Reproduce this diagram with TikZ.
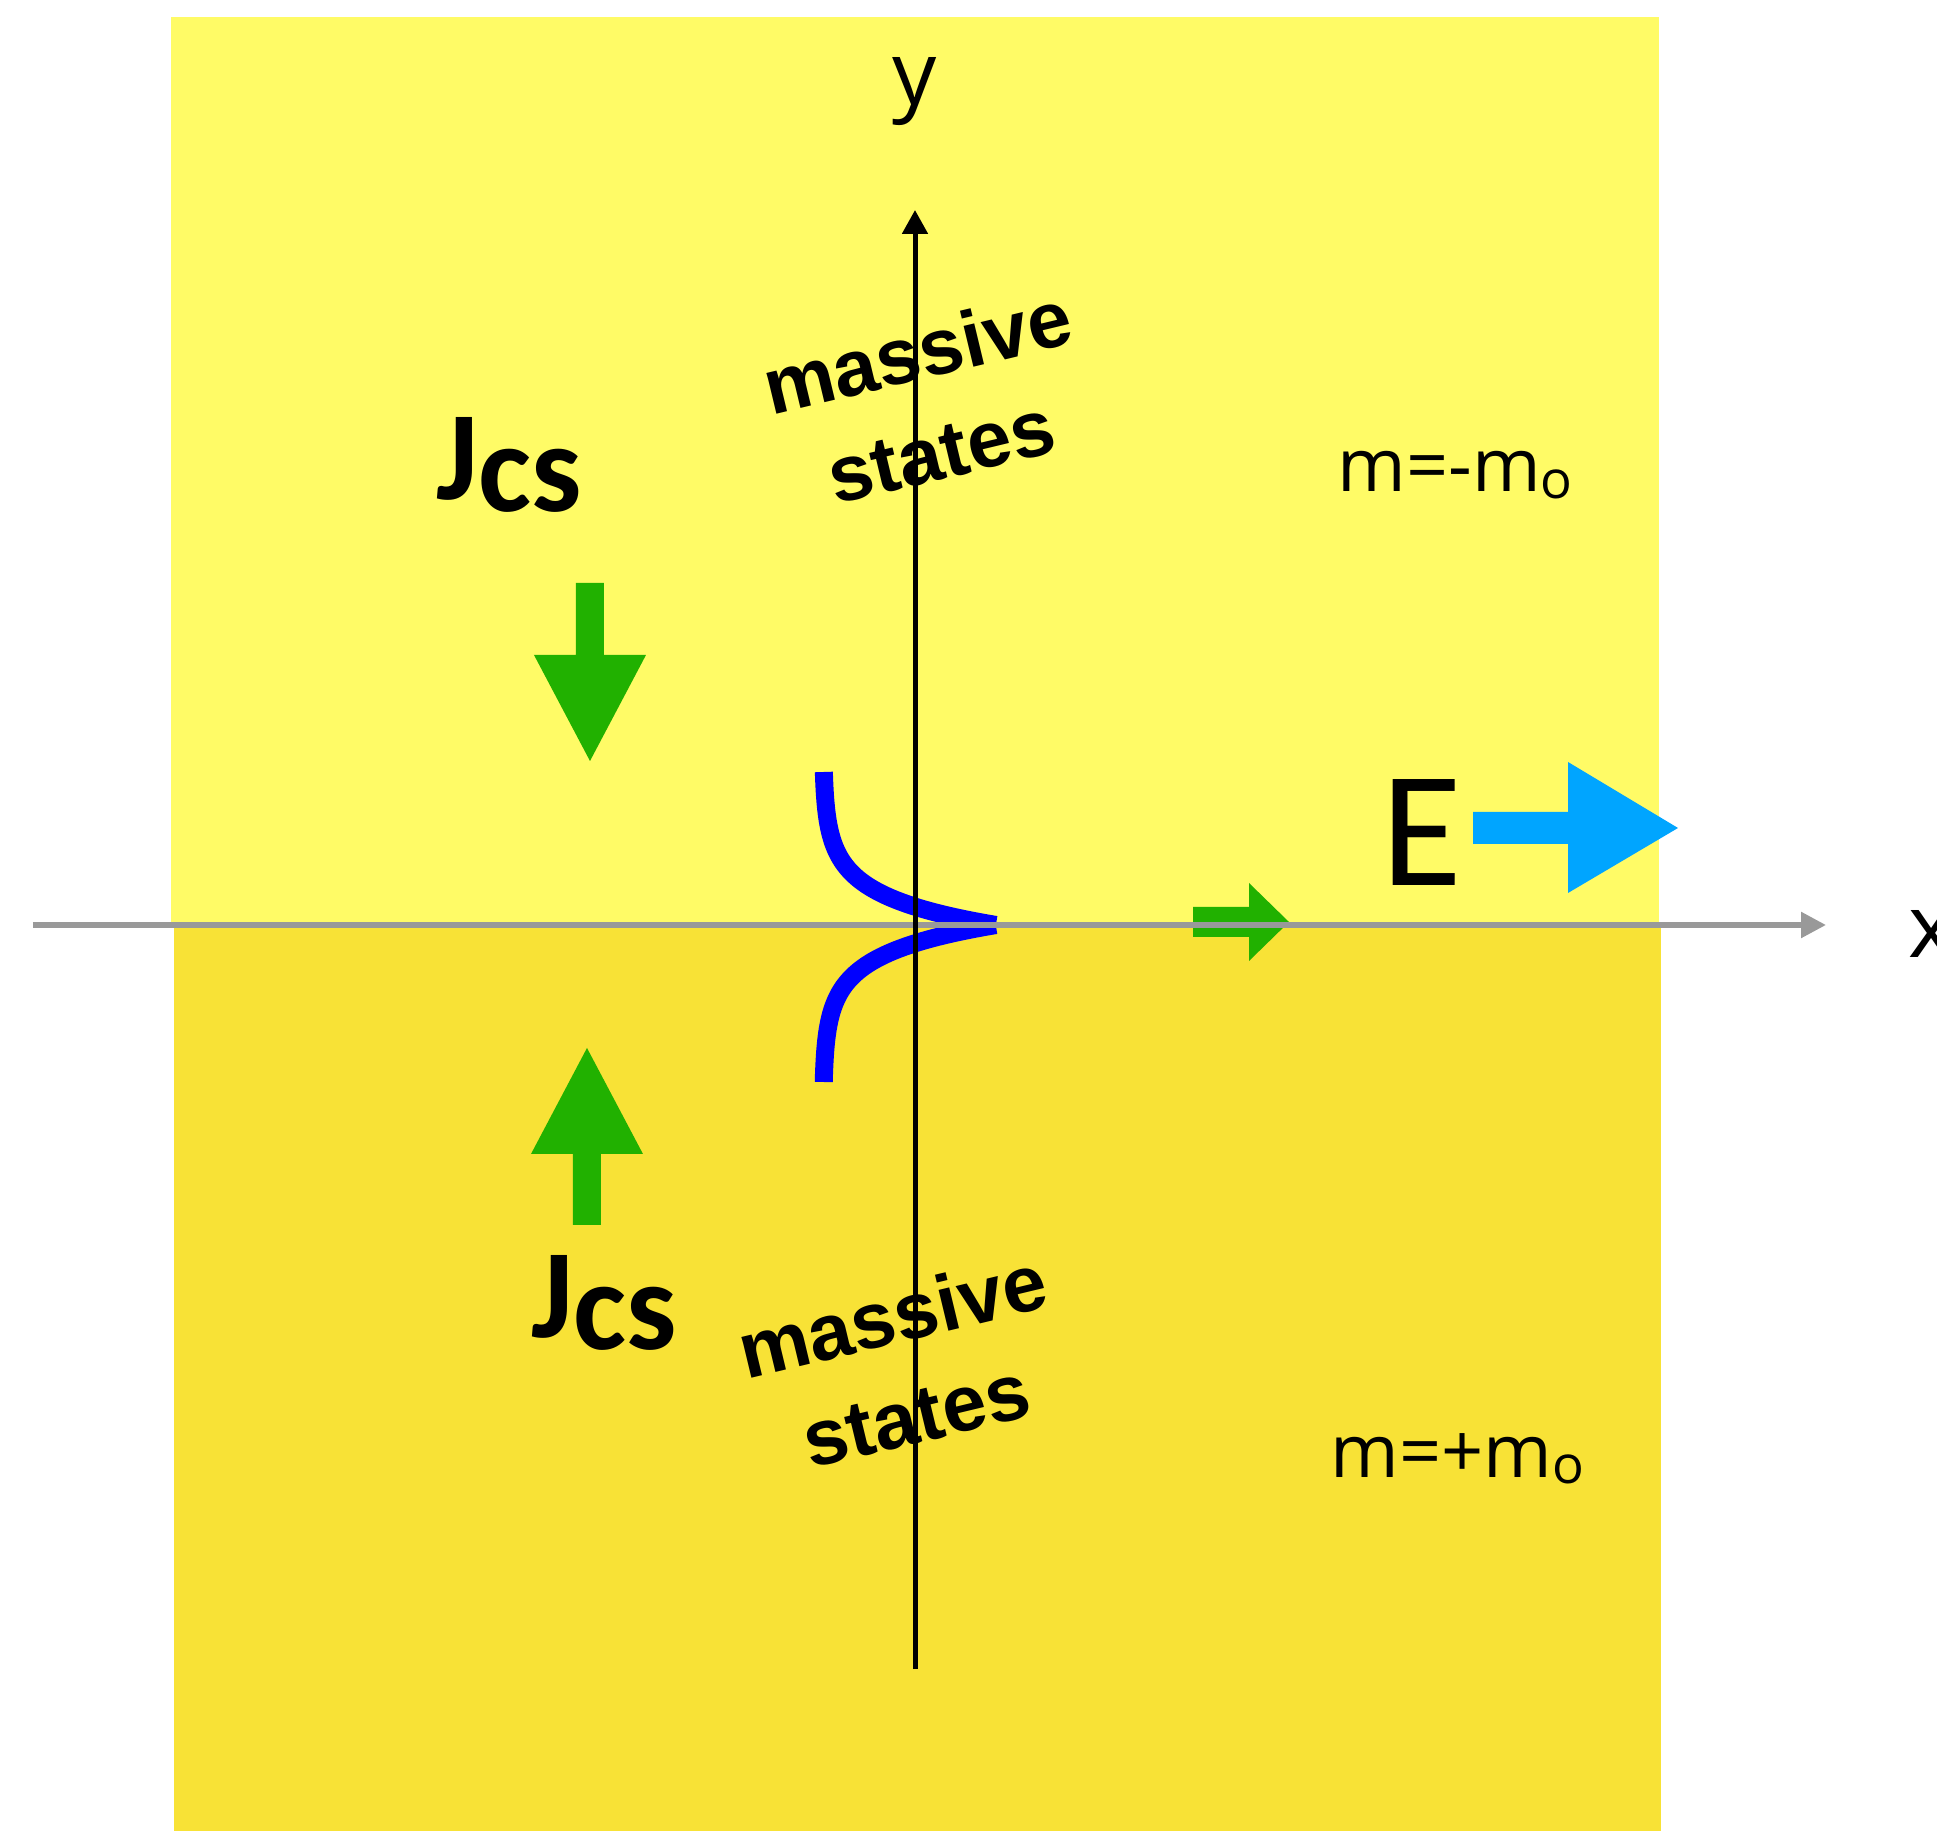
\documentclass[tikz,border=0pt]{standalone}
\usepackage{fontspec}
\setmainfont{Open Sans}
\newfontfamily\calfont{Carlito}
\newfontfamily\helvfont{Liberation Sans}
\usetikzlibrary{arrows.meta}

\definecolor{topyellow}{RGB}{255,251,102}
\definecolor{botyellow}{RGB}{248,226,54}
\definecolor{jgreen}{RGB}{33,177,0}
\definecolor{eblue}{RGB}{0,165,255}
\definecolor{wfblue}{RGB}{0,0,255}

\tikzset{
  xaxis/.style  = {draw=black!40, line width=0.055cm,
                   -{Triangle[length=0.25cm, width=0.25cm]}},
  yaxis/.style  = {draw=black, line width=0.05cm,
                   -{Triangle[length=0.24cm, width=0.25cm]}},
  wavefn/.style = {draw=wfblue, line width=0.18cm, line cap=butt},
  axlabel/.style= {inner sep=0pt, font=\fontsize{25}{30}\selectfont},
  mass/.style   = {inner sep=0pt, font=\fontsize{21}{25}\selectfont},
  jcs/.style    = {inner sep=0pt, font=\calfont\bfseries\fontsize{36}{40}\selectfont},
  states/.style = {inner sep=0pt, rotate=13.5, align=center,
                   font=\helvfont\bfseries\fontsize{22.6}{29}\selectfont},
}

\newcommand{\Jcs}{J\raisebox{-3.4pt}{cs}}
\newcommand{\mzero}{m\raisebox{-0.09em}{\fontsize{15}{15}\selectfont o}}

\begin{document}
\begin{tikzpicture}
    \useasboundingbox (-9.15,-9.06) rectangle (10.22,9.25);

    % the two half planes
    \fill[topyellow] (-7.44,0) rectangle (7.44,9.08);
    \fill[botyellow] (-7.41,-9.06) rectangle (7.46,0);

    % Chern-Simons currents and the drift along the wall
    \fill[jgreen] (-3.39,3.42) -- (-3.11,3.42) -- (-3.11,2.70) -- (-2.69,2.70)
        -- (-3.25,1.64) -- (-3.81,2.70) -- (-3.39,2.70) -- cycle;
    \fill[jgreen] (-3.42,-3.00) -- (-3.14,-3.00) -- (-3.14,-2.29) -- (-2.72,-2.29)
        -- (-3.28,-1.23) -- (-3.84,-2.29) -- (-3.42,-2.29) -- cycle;
    \fill[jgreen] (2.78,0.18) -- (3.34,0.18) -- (3.34,0.42) -- (3.74,0.03)
        -- (3.34,-0.36) -- (3.34,-0.12) -- (2.78,-0.12) -- cycle;

    % electric field
    \fill[eblue] (5.58,1.13) -- (6.53,1.13) -- (6.53,1.63) -- (7.63,0.97)
        -- (6.53,0.32) -- (6.53,0.81) -- (5.58,0.81) -- cycle;

    % bound state profile
    \draw[wavefn] plot[domain=1.53:0, samples=80, variable=\t]
        ({-0.92+1.73*exp(-\t/0.29)}, {\t});
    \draw[wavefn] plot[domain=1.57:0, samples=80, variable=\t]
        ({-0.92+1.73*exp(-\t/0.29)}, {-\t});

    \node[states] (massup) at (0.14,5.24) {massive\\states};
    \node[states] (massdown) at (-0.11,-4.40) {massive\\states};

    \node[jcs] (jcsup) at (-4.06,4.60) {\Jcs};
    \node[jcs] (jcsdown) at (-3.11,-3.78) {\Jcs};

    \node[inner sep=0pt, font=\calfont\fontsize{47}{50}\selectfont] (efield)
        at (5.07,0.92) {E};

    \node[mass, anchor=base west] (mup) at (4.22,4.33) {m=-\mzero};
    \node[mass, anchor=base west] (mdown) at (4.15,-5.52) {m=+\mzero};

    % axes
    \coordinate (xfrom) at (-8.82,0);
    \coordinate (xto) at (9.11,0);
    \coordinate (yfrom) at (0,-7.44);
    \coordinate (yto) at (0,7.15);
    \draw[xaxis] (xfrom) -- (xto);
    \draw[yaxis] (yfrom) -- (yto);

    \node[axlabel, anchor=base] (ylab) at (0,8.20) {y};
    \node[axlabel, anchor=base west] (xlab) at (9.93,-0.33) {x};

\end{tikzpicture}
\end{document}
